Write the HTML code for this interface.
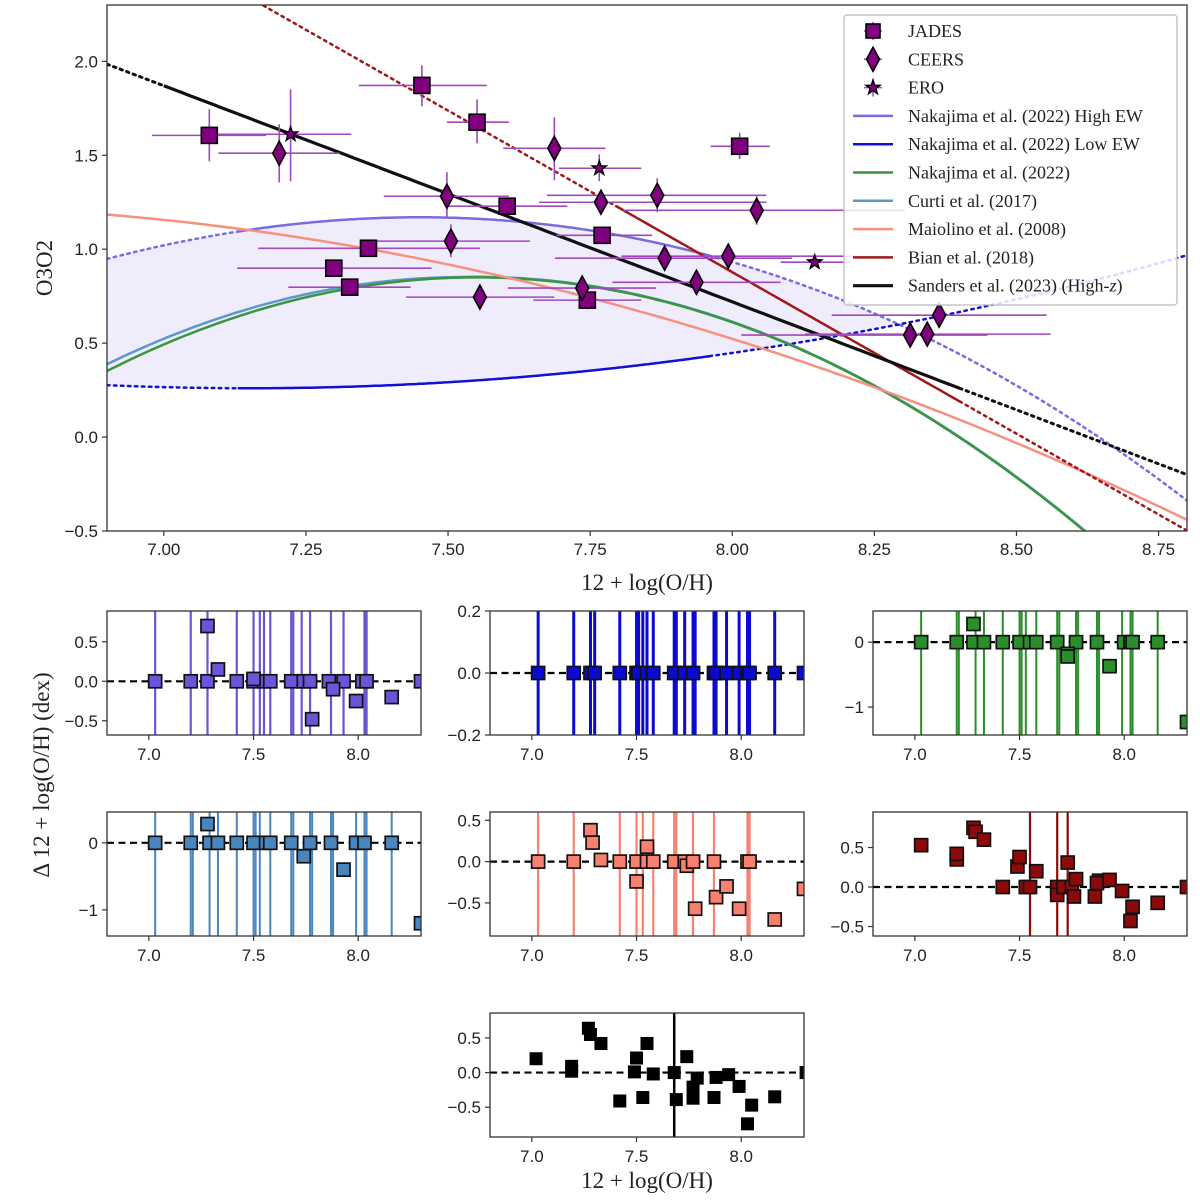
<!DOCTYPE html>
<html><head><meta charset="utf-8"><style>
html,body{margin:0;padding:0;background:#fff;}
svg{display:block;}
.tk{font-family:"Liberation Sans","DejaVu Sans",sans-serif;font-size:17px;fill:#222;}
.sr{font-family:"Liberation Serif",serif;fill:#222;}
</style></head><body>
<svg id="fig" width="1200" height="1203" viewBox="0 0 1200 1203" xmlns="http://www.w3.org/2000/svg"></svg>
<script>
// ---------- main plot data ----------
const jadesX=[7.080,7.454,7.551,7.604,7.360,7.299,7.327,7.771,7.745,8.013];
const jadesY=[1.606,1.872,1.676,1.229,1.005,0.899,0.798,1.074,0.729,1.548];
const jadesXlo=[6.979,7.343,7.498,7.498,7.166,7.129,7.219,7.690,7.650,7.962];
const jadesXhi=[7.180,7.568,7.607,7.710,7.556,7.471,7.434,7.859,7.840,8.066];
const jadesYlo=[1.468,1.761,1.564,1.21,0.985,0.88,0.78,1.05,0.68,1.48];
const jadesYhi=[1.745,1.979,1.798,1.25,1.025,0.92,0.82,1.10,0.78,1.62];
const eroX=[7.223,7.766,8.145];
const eroY=[1.612,1.431,0.931];
const eroXlo=[7.096,7.695,8.085];
const eroXhi=[7.330,7.840,8.209];
const eroYlo=[1.362,1.362,0.92];
const eroYhi=[1.851,1.505,0.94];
const ceersX=[7.203,7.498,7.505,7.687,7.556,7.769,7.868,8.043,7.881,7.993,7.937,7.736,8.313,8.343,8.364];
const ceersY=[1.511,1.282,1.043,1.537,0.745,1.250,1.287,1.207,0.952,0.963,0.824,0.793,0.543,0.548,0.649];
const ceersXlo=[7.096,7.387,7.367,7.597,7.426,7.660,7.674,7.808,7.688,7.805,7.789,7.605,8.016,8.128,8.175];
const ceersXhi=[7.309,7.607,7.644,7.777,7.687,8.060,8.060,8.304,8.105,8.219,8.085,7.866,8.449,8.560,8.553];
const ceersYlo=[1.356,1.170,0.957,1.367,0.69,1.19,1.197,1.13,0.90,0.91,0.77,0.74,0.50,0.51,0.61];
const ceersYhi=[1.665,1.410,1.133,1.702,0.80,1.31,1.378,1.29,1.00,1.01,0.88,0.84,0.58,0.59,0.69];
const xTicks=[7.00,7.25,7.50,7.75,8.00,8.25,8.50,8.75];
const yTicks=[-0.5,0.0,0.5,1.0,1.5,2.0];
const legendLabels=["JADES","CEERS","ERO","Nakajima et al. (2022) High EW","Nakajima et al. (2022) Low EW","Nakajima et al. (2022)","Curti et al. (2017)","Maiolino et al. (2008)","Bian et al. (2018)","Sanders et al. (2023) (High-"];

// ---------- residual panels data ----------
const p1X=[7.03,7.20,7.28,7.42,7.50,7.55,7.58,7.68,7.74,7.77,7.86,7.93,8.02,8.04,8.30,7.28,7.33,7.50,7.78,7.88,7.99,8.16];
const p1Y=[0,0,0,0,0,0,0,0,0,0,0,0,0,0,0,0.70,0.15,0.03,-0.48,-0.10,-0.25,-0.20];
const p1V=[7.03,7.20,7.28,7.42,7.50,7.53,7.55,7.58,7.68,7.69,7.73,7.77,7.87,7.93,8.03,8.04];
const p2X=[7.03,7.20,7.28,7.30,7.42,7.50,7.51,7.55,7.58,7.68,7.73,7.77,7.87,7.88,7.93,7.99,8.03,8.04,8.16,8.30];
const p2Y=[0,0,0,0,0,0,0,0,0,0,0,0,0,0,0,0,0,0,0,0];
const p2V=[7.03,7.20,7.28,7.30,7.42,7.50,7.51,7.53,7.55,7.58,7.68,7.69,7.73,7.77,7.78,7.87,7.88,7.93,7.99,8.03,8.04,8.16];
const p3X=[7.03,7.20,7.28,7.33,7.42,7.50,7.55,7.58,7.68,7.77,7.87,8.00,8.03,8.04,8.16,7.28,7.73,7.73,7.93,8.30];
const p3Y=[0,0,0,0,0,0,0,0,0,0,0,0,0,0,0,0.28,-0.18,-0.22,-0.37,-1.23];
const p3V=[7.03,7.20,7.21,7.29,7.33,7.42,7.50,7.51,7.53,7.58,7.68,7.69,7.77,7.78,7.87,7.88,7.99,8.03,8.04,8.16];
const p4X=[7.03,7.20,7.29,7.33,7.42,7.50,7.56,7.58,7.68,7.77,7.87,7.99,8.03,8.16,7.28,7.74,7.93,8.30];
const p4Y=[0,0,0,0,0,0,0,0,0,0,0,0,0,0,0.28,-0.20,-0.40,-1.20];
const p4V=[7.03,7.20,7.21,7.29,7.33,7.42,7.50,7.51,7.53,7.58,7.68,7.69,7.77,7.78,7.87,7.88,7.99,8.03,8.04,8.16];
const p5X=[7.03,7.20,7.28,7.29,7.33,7.42,7.50,7.50,7.55,7.55,7.58,7.68,7.73,7.74,7.77,7.78,7.87,7.88,7.93,7.99,8.03,8.04,8.16,8.30];
const p5Y=[0,0,0.38,0.23,0.02,0,0,-0.24,0.18,0,0,0,0,-0.05,0,-0.57,0,-0.43,-0.30,-0.57,0,0,-0.70,-0.33];
const p5V=[7.03,7.20,7.42,7.50,7.53,7.58,7.68,7.69,7.77,7.87,8.03,8.04];
const p6X=[7.03,7.20,7.20,7.28,7.29,7.33,7.42,7.49,7.50,7.53,7.55,7.58,7.68,7.68,7.71,7.73,7.75,7.76,7.77,7.86,7.88,7.87,7.93,7.99,8.03,8.04,8.16,8.30];
const p6Y=[0.53,0.35,0.42,0.75,0.70,0.60,0,0.26,0.38,0,0,0.20,0,-0.10,0,0.31,0,-0.12,0.10,-0.12,0.08,0.05,0.09,-0.05,-0.43,-0.25,-0.20,0];
const p6V=[7.55,7.68,7.73];
const p7X=[7.02,7.19,7.19,7.27,7.28,7.33,7.42,7.50,7.49,7.53,7.55,7.58,7.68,7.69,7.74,7.77,7.77,7.79,7.88,7.87,7.94,7.99,8.05,8.03,8.16,8.31];
const p7Y=[0.20,0.09,0.02,0.64,0.55,0.42,-0.41,0.21,0.01,-0.36,0.42,-0.02,0,-0.39,0.23,-0.21,-0.37,-0.08,-0.07,-0.36,-0.03,-0.20,-0.47,-0.74,-0.35,0];
const p7V=[7.68];
const subXTicks=[7.0,7.5,8.0];

const NS="http://www.w3.org/2000/svg";
const svg=document.getElementById('fig');
function mk(tag,attrs,parent){const e=document.createElementNS(NS,tag);for(const k in attrs)e.setAttribute(k,attrs[k]);(parent||svg).appendChild(e);return e;}
function fmtMinus(s){return s.replace('-','\u2212');}

// ---------- main axes ----------
const L=107,R=1187,T=5,B=531,XMIN=6.9,XMAX=8.8,YMIN=-0.5,YMAX=2.3;
const sx=v=>L+(v-XMIN)/(XMAX-XMIN)*(R-L);
const sy=v=>B-(v-YMIN)/(YMAX-YMIN)*(B-T);
const defs=mk('defs',{});
const cp=mk('clipPath',{id:'mainclip'},defs);mk('rect',{x:L,y:T,width:R-L,height:B-T},cp);
const main=mk('g',{'clip-path':'url(#mainclip)'});



const fHigh=x=>{const t=x-7.45;return 1.17-0.76*t*t-0.05*t*t*t;};
const fLow=x=>{const t=x-7.15;return 0.26+0.26*t*t;};
const fNak=x=>{const t=x-7.55;return 0.85-1.18*t*t;};
const fCurti=x=>{if(x<7.53){const t=x-7.53;return 0.852-1.17*t*t;}const t=x-7.55;return 0.853-1.18*t*t;};
const fMaio=x=>{const d=x-8.69;return -0.2839-1.3881*d-0.3172*d*d;};
const fBian=x=>0.19-1.72*(x-8.4);
const fSand=x=>0.26-1.15*(x-8.4);
function pathOf(f,a,b){let d='';const n=200;for(let i=0;i<=n;i++){const x=a+(b-a)*i/n;d+=(i?'L':'M')+sx(x).toFixed(1)+' '+sy(f(x)).toFixed(1);}return d;}

// fill between high and low
{let d='';const a=6.9,b=8.3,n=150;for(let i=0;i<=n;i++){const x=a+(b-a)*i/n;d+=(i?'L':'M')+sx(x).toFixed(1)+' '+sy(fHigh(x)).toFixed(1);}
for(let i=n;i>=0;i--){const x=a+(b-a)*i/n;d+='L'+sx(x).toFixed(1)+' '+sy(fLow(x)).toFixed(1);}
const fill=mk('path',{d:d+'Z',fill:'#efedfb',stroke:'none'},main);

}

function curve(f,a,b,col,w,dotted,name){const p=mk('path',{d:pathOf(f,a,b),fill:'none',stroke:col,'stroke-width':w,'stroke-dasharray':dotted?'2.5 4.5':'none','stroke-linecap':dotted?'round':'butt'},main);

}
curve(fHigh,6.9,7.13,'#7b6be0',2.5,true,'high-ew-extrapolation-left');
curve(fHigh,7.13,7.96,'#7b6be0',2.5,false,'high-ew-curve');
curve(fHigh,7.96,8.8,'#7b6be0',2.5,true,'high-ew-extrapolation-right');
curve(fLow,6.9,7.13,'#1010d8',2.5,true,'low-ew-extrapolation-left');
curve(fLow,7.13,7.96,'#1010d8',2.5,false,'low-ew-curve');
curve(fLow,7.96,8.8,'#1010d8',2.5,true,'low-ew-extrapolation-right');
curve(fCurti,6.9,8.8,'#5e97c8',2.5,false,'curti-curve');
curve(fNak,6.9,8.8,'#3a953e',2.5,false,'nakajima-curve');
curve(fMaio,6.9,8.8,'#f7907f',2.5,false,'maiolino-curve');
curve(fBian,7.1,7.8,'#a01818',2.5,true,'bian-extrapolation-left');
curve(fBian,7.8,8.4,'#a01818',2.5,false,'bian-curve');
curve(fBian,8.4,8.8,'#a01818',2.5,true,'bian-extrapolation-right');
curve(fSand,6.9,7.0,'#111',3,true,'sanders-extrapolation-left');
curve(fSand,7.0,8.4,'#111',3.2,false,'sanders-curve');
curve(fSand,8.4,8.8,'#111',3,true,'sanders-extrapolation-right');

const ERRC='#a048bc';
function errbars(X,Y,xl,xh,yl,yh,name){for(let i=0;i<X.length;i++){
 const h=mk('line',{x1:sx(xl[i]),x2:sx(xh[i]),y1:sy(Y[i]),y2:sy(Y[i]),stroke:ERRC,'stroke-width':1.6},main);
 
 
 const v=mk('line',{x1:sx(X[i]),x2:sx(X[i]),y1:sy(yl[i]),y2:sy(yh[i]),stroke:ERRC,'stroke-width':1.6},main);
 
 }}
errbars(jadesX,jadesY,jadesXlo,jadesXhi,jadesYlo,jadesYhi,'jades');
errbars(ceersX,ceersY,ceersXlo,ceersXhi,ceersYlo,ceersYhi,'ceers');
errbars(eroX,eroY,eroXlo,eroXhi,eroYlo,eroYhi,'ero');

function square(cx,cy,s,fill,par,name){const r=mk('rect',{x:cx-s/2,y:cy-s/2,width:s,height:s,fill:fill,stroke:'#000','stroke-width':1.6},par);
 
 return r;}
function diamond(cx,cy,par,name){const p=mk('path',{d:`M${cx} ${cy-12}L${cx+6.5} ${cy}L${cx} ${cy+12}L${cx-6.5} ${cy}Z`,fill:'#800080',stroke:'#000','stroke-width':1.6},par);
 
 }
function star(cx,cy,par,name){let d='';for(let k=0;k<10;k++){const r=k%2?3:7.5;const a=-Math.PI/2+k*Math.PI/5;d+=(k?'L':'M')+(cx+r*Math.cos(a)).toFixed(1)+' '+(cy+r*Math.sin(a)).toFixed(1);}
 const p=mk('path',{d:d+'Z',fill:'#800080',stroke:'#000','stroke-width':1.4},par);
 
 }
for(let i=0;i<jadesX.length;i++)square(sx(jadesX[i]),sy(jadesY[i]),16,'#800080',main,'jades-point');
for(let i=0;i<ceersX.length;i++)diamond(sx(ceersX[i]),sy(ceersY[i]),main,'ceers-point');
for(let i=0;i<eroX.length;i++)star(sx(eroX[i]),sy(eroY[i]),main,'ero-point');

// frame + ticks
function frame(x,y,w,h,name){const r=mk('rect',{x:x,y:y,width:w,height:h,fill:'none',stroke:'#333','stroke-width':1.3});
 
 }
frame(L,T,R-L,B-T,'main-axes-frame');
for(const v of xTicks){const X=sx(v);mk('line',{x1:X,x2:X,y1:B,y2:B+5,stroke:'#333','stroke-width':1.2});
 const t=mk('text',{x:X,y:B+24,'text-anchor':'middle',class:'tk'});t.textContent=v.toFixed(2);
 
 }
for(const v of yTicks){const Y=sy(v);mk('line',{x1:L-5,x2:L,y1:Y,y2:Y,stroke:'#333','stroke-width':1.2});
 const t=mk('text',{x:L-9,y:Y+6,'text-anchor':'end',class:'tk'});t.textContent=fmtMinus(v.toFixed(1));
 
 }
{const t=mk('text',{x:647,y:590,'text-anchor':'middle',class:'sr','font-size':23});t.textContent='12 + log(O/H)';
 
 
 const u=mk('text',{x:52,y:268,'text-anchor':'middle',class:'sr','font-size':23,transform:'rotate(-90 52 268)'});u.textContent='O3O2';
 
 }

// legend
{const g=mk('g',{});
 
 
 mk('rect',{x:844,y:15,width:333,height:290,rx:3,fill:'#fff','fill-opacity':0.85,stroke:'#bbb','stroke-width':1.2},g);
 const cols=['#7b6be0','#1010d8','#3a953e','#5e97c8','#f7907f','#a01818','#111'];
 for(let i=0;i<legendLabels.length;i++){const y=31+i*28.3;
  if(i<3){mk('line',{x1:873,x2:873,y1:y-9,y2:y+9,stroke:ERRC,'stroke-width':1.5},g);mk('line',{x1:864,x2:882,y1:y,y2:y,stroke:ERRC,'stroke-width':1.5},g);
   if(i==0)square(873,y,14,'#800080',g,'legend-jades-marker');else if(i==1)diamond(873,y,g,'legend-ceers-marker');else star(873,y,g,'legend-ero-marker');}
  else{const l=mk('line',{x1:853,x2:893,y1:y,y2:y,stroke:cols[i-3],'stroke-width':i==9?3.2:2.5},g);
   
   }
  const t=mk('text',{x:908,y:y+6,class:'sr','font-size':18},g);t.textContent=legendLabels[i];
  if(i==9){const s=mk('tspan',{'font-style':'italic'},t);s.textContent='z';const s2=mk('tspan',{},t);s2.textContent=')';}
  
  }}

// ---------- residual panels ----------
const PW=314,PH=124,SXMIN=6.8,SXMAX=8.3;
function panel(px,py,X,Y,V,ymin,ymax,yt,ylab,col,name,vw,blk){
 const g=mk('g',{});
 
 
 const cid=name+'-clip';const c=mk('clipPath',{id:cid},defs);mk('rect',{x:px,y:py,width:PW,height:PH},c);
 const inner=mk('g',{'clip-path':`url(#${cid})`},g);
 const fx=v=>px+(v-SXMIN)/(SXMAX-SXMIN)*PW, fy=v=>py+PH-(v-ymin)/(ymax-ymin)*PH;
 for(const v of V){const l=mk('line',{x1:fx(v),x2:fx(v),y1:py,y2:py+PH,stroke:col,'stroke-width':vw},inner);
  
  }
 const z=mk('line',{x1:px,x2:px+PW,y1:fy(0),y2:fy(0),stroke:'#000','stroke-width':2.2,'stroke-dasharray':'7 4.5'},inner);
 
 
 for(let i=0;i<X.length;i++){const r=mk('rect',{x:fx(X[i])-6.5,y:fy(Y[i])-6.5,width:13,height:13,fill:col,stroke:blk?'#000':'#111','stroke-width':blk?0:1.7},inner);
  
  }
 const f=mk('rect',{x:px,y:py,width:PW,height:PH,fill:'none',stroke:'#333','stroke-width':1.3},g);
 
 
 for(const v of subXTicks){const X=fx(v);mk('line',{x1:X,x2:X,y1:py+PH,y2:py+PH+5,stroke:'#333','stroke-width':1.2},g);
  const t=mk('text',{x:X,y:py+PH+25,'text-anchor':'middle',class:'tk'},g);t.textContent=v.toFixed(1);
  
  }
 for(let i=0;i<yt.length;i++){const Y=fy(yt[i]);mk('line',{x1:px-5,x2:px,y1:Y,y2:Y,stroke:'#333','stroke-width':1.2},g);
  const t=mk('text',{x:px-9,y:Y+6,'text-anchor':'end',class:'tk'},g);t.textContent=fmtMinus(ylab[i]);
  
  }
}
const cx=[107,490,873],ry=[611,812,1013];
panel(cx[0],ry[0],p1X,p1Y,p1V,-0.68,0.89,[0.5,0,-0.5],['0.5','0.0','-0.5'],'#6a55d6','panel-high-ew',2.2,false);
panel(cx[1],ry[0],p2X,p2Y,p2V,-0.2,0.2,[0.2,0,-0.2],['0.2','0.0','-0.2'],'#0a0ad0','panel-low-ew',3,false);
panel(cx[2],ry[0],p3X,p3Y,p3V,-1.43,0.48,[0,-1],['0','-1'],'#2a8f2a','panel-nakajima',2,false);
panel(cx[0],ry[1],p4X,p4Y,p4V,-1.39,0.46,[0,-1],['0','-1'],'#4a86be','panel-curti',2,false);
panel(cx[1],ry[1],p5X,p5Y,p5V,-0.9,0.6,[0.5,0,-0.5],['0.5','0.0','-0.5'],'#f8806f','panel-maiolino',2.2,false);
panel(cx[2],ry[1],p6X,p6Y,p6V,-0.62,0.95,[0.5,0,-0.5],['0.5','0.0','-0.5'],'#8e0a0a','panel-bian',2.2,false);
panel(cx[1],ry[2],p7X,p7Y,p7V,-0.93,0.86,[0.5,0,-0.5],['0.5','0.0','-0.5'],'#000','panel-sanders',2.5,true);
{const t=mk('text',{x:647,y:1188,'text-anchor':'middle',class:'sr','font-size':23});t.textContent='12 + log(O/H)';
 
 
 const u=mk('text',{x:49,y:775,'text-anchor':'middle',class:'sr','font-size':23,transform:'rotate(-90 49 775)'});u.textContent='\u0394 12 + log(O/H) (dex)';
 
 }
</script>
</body></html>
